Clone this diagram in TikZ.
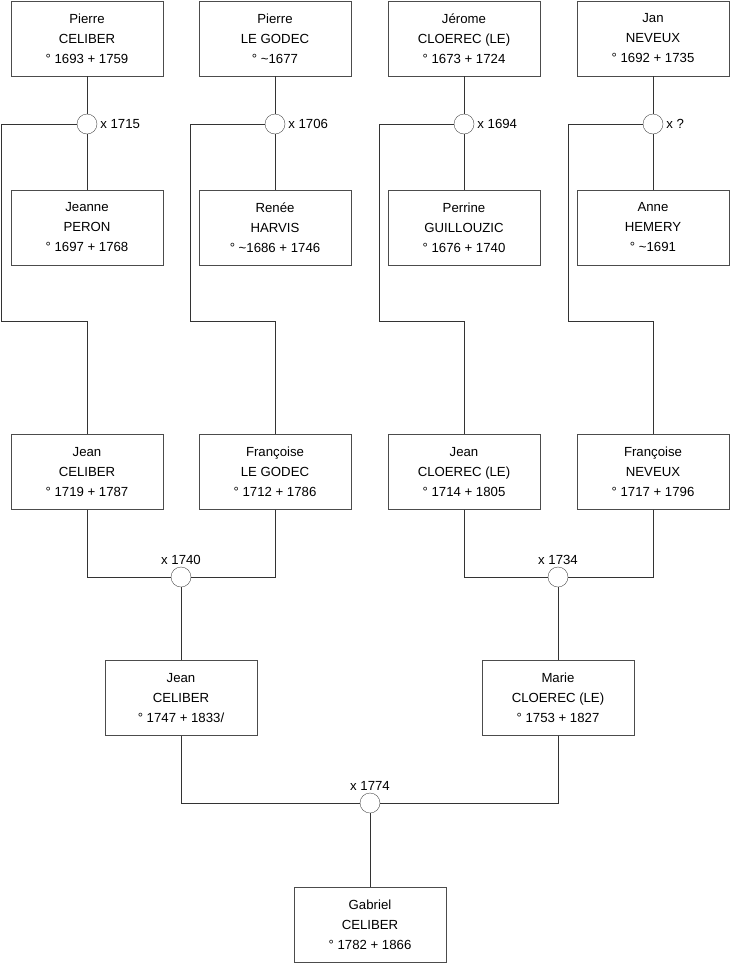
\documentclass[tikz,border=0pt]{standalone}
\usepackage{fontspec}
\setmainfont{Liberation Sans}
\usetikzlibrary{positioning}

\tikzset{
  person/.style={draw=black!70, fill=white, rectangle, minimum width=152pt, minimum height=75pt,
    align=center, font=\fontsize{13.2}{20}\selectfont, inner sep=0pt},
  union/.style={draw=black!70, fill=white, circle, minimum size=20pt, inner sep=0pt},
  year/.style={font=\fontsize{13.2}{15}\selectfont, inner sep=2pt},
  link/.style={draw=black!80, line width=0.8pt}
}

\begin{document}
\begin{tikzpicture}[x=1pt, y=-1pt]
\useasboundingbox (0,0) rectangle (740,975);

% --- Generation 1: great-grandparents ---
\node[person] (pierreC) at (87,38.5) {Pierre\\CELIBER\\° 1693 + 1759};
\node[person] (pierreL) at (275,38.5) {Pierre\\LE GODEC\\° \textasciitilde1677};
\node[person] (jerome) at (464,38.5) {Jérome\\CLOEREC (LE)\\° 1673 + 1724};
\node[person] (jan) at (653,38.5) {Jan\\NEVEUX\\° 1692 + 1735};

\node[person] (jeanne) at (87,227.5) {Jeanne\\PERON\\° 1697 + 1768};
\node[person] (renee) at (275,227.5) {Renée\\HARVIS\\° \textasciitilde1686 + 1746};
\node[person] (perrine) at (464,227.5) {Perrine\\GUILLOUZIC\\° 1676 + 1740};
\node[person] (anne) at (653,227.5) {Anne\\HEMERY\\° \textasciitilde1691};

\node[union] (u1) at (87,124) {};
\node[union] (u2) at (275,124) {};
\node[union] (u3) at (464,124) {};
\node[union] (u4) at (653,124) {};
\node[year, right=1pt of u1] (y1) {x 1715};
\node[year, right=1pt of u2] (y2) {x 1706};
\node[year, right=1pt of u3] (y3) {x 1694};
\node[year, right=1pt of u4] (y4) {x ?};

\draw[link] (pierreC) -- (u1) -- (jeanne);
\draw[link] (pierreL) -- (u2) -- (renee);
\draw[link] (jerome) -- (u3) -- (perrine);
\draw[link] (jan) -- (u4) -- (anne);

% --- Generation 2: grandparents ---
\node[person] (jeanC) at (87,472) {Jean\\CELIBER\\° 1719 + 1787};
\node[person] (francoiseL) at (275,472) {Françoise\\LE GODEC\\° 1712 + 1786};
\node[person] (jeanL) at (464,472) {Jean\\CLOEREC (LE)\\° 1714 + 1805};
\node[person] (francoiseN) at (653,472) {Françoise\\NEVEUX\\° 1717 + 1796};

\draw[link] (u1.west) -- (1,124) -- (1,321) -| (jeanC.north);
\draw[link] (u2.west) -- (190,124) -- (190,321) -| (francoiseL.north);
\draw[link] (u3.west) -- (379,124) -- (379,321) -| (jeanL.north);
\draw[link] (u4.west) -- (568,124) -- (568,321) -| (francoiseN.north);

\node[union] (u5) at (181,577) {};
\node[union] (u6) at (558,577) {};
\node[year, above=0pt of u5] (y5) {x 1740};
\node[year, above=0pt of u6] (y6) {x 1734};

\draw[link] (jeanC.south) |- (u5.west);
\draw[link] (francoiseL.south) |- (u5.east);
\draw[link] (jeanL.south) |- (u6.west);
\draw[link] (francoiseN.south) |- (u6.east);

% --- Generation 3: parents ---
\node[person] (jeanP) at (181,698) {Jean\\CELIBER\\° 1747 + 1833/};
\node[person] (marie) at (558,698) {Marie\\CLOEREC (LE)\\° 1753 + 1827};

\draw[link] (u5) -- (jeanP);
\draw[link] (u6) -- (marie);

\node[union] (u7) at (370,803) {};
\node[year, above=0pt of u7] (y7) {x 1774};

\draw[link] (jeanP.south) |- (u7.west);
\draw[link] (marie.south) |- (u7.east);

% --- Generation 4 ---
\node[person] (gabriel) at (370,925) {Gabriel\\CELIBER\\° 1782 + 1866};
\draw[link] (u7) -- (gabriel);

\end{tikzpicture}
\end{document}
